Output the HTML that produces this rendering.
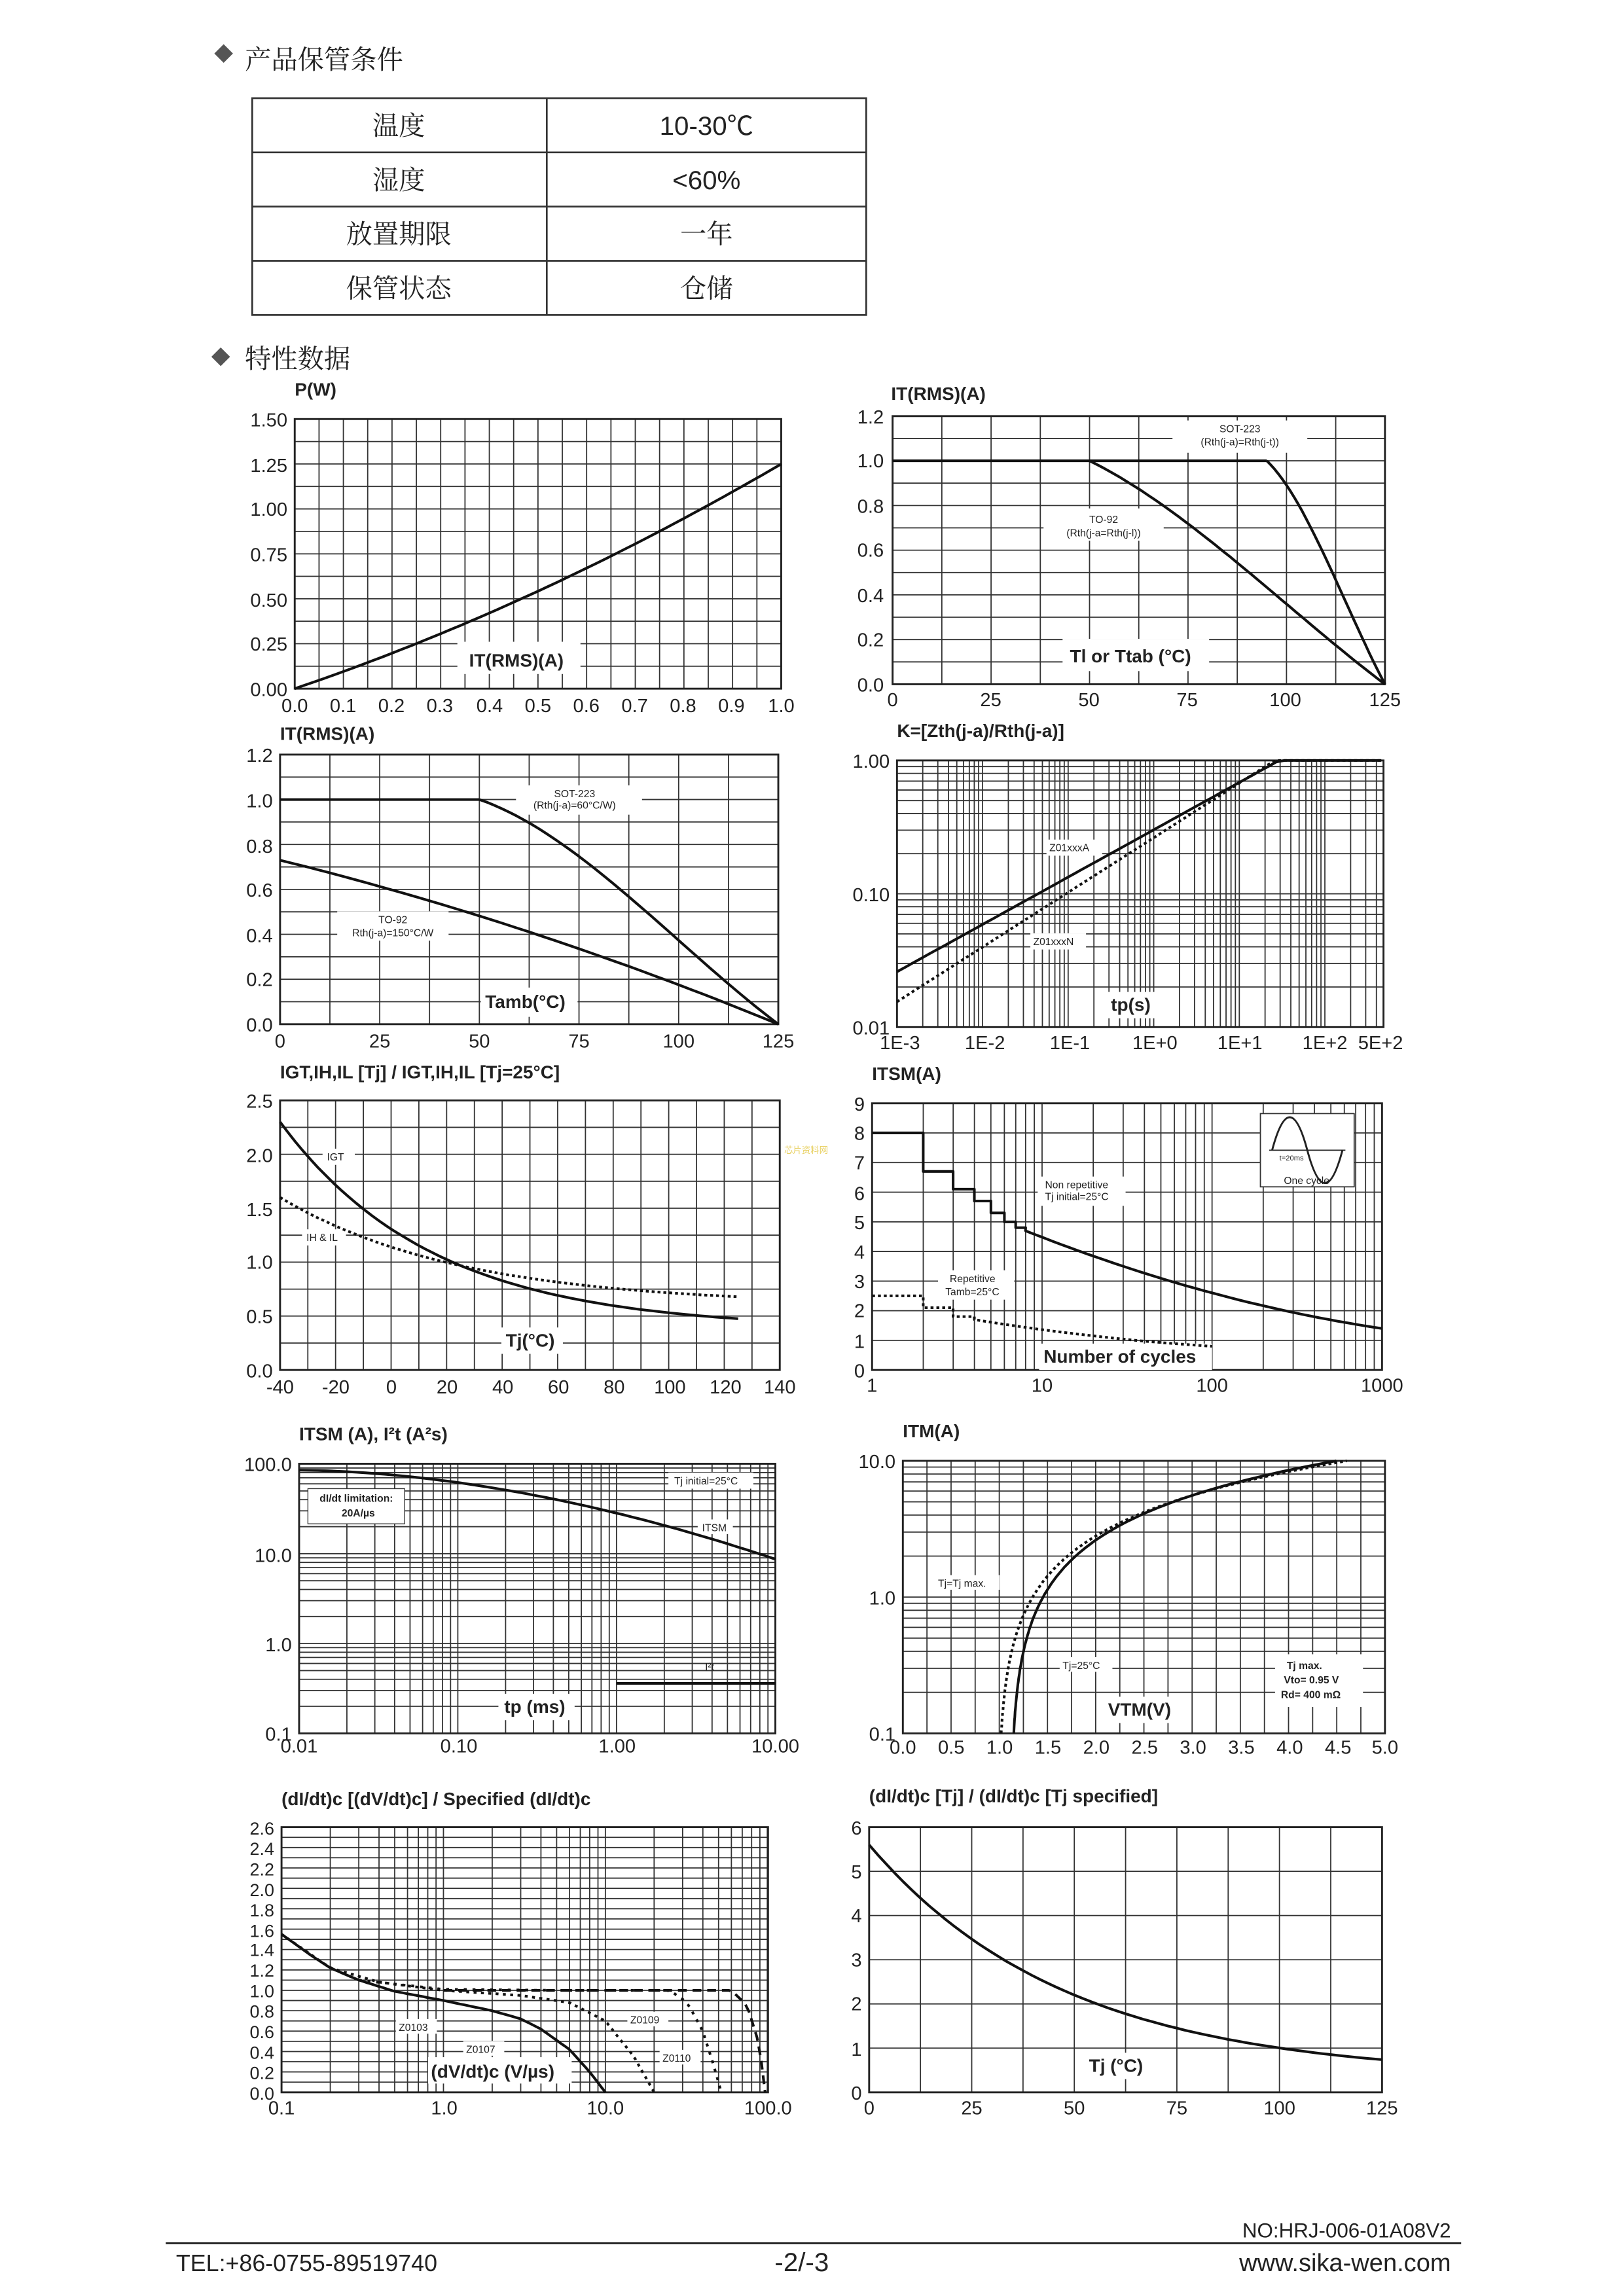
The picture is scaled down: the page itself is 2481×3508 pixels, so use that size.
<!DOCTYPE html>
<html><head><meta charset="utf-8">
<style>
html,body{margin:0;padding:0;background:#fff;}
svg{display:block;}
text{font-family:"Liberation Sans","Noto Sans CJK SC",sans-serif;fill:#222;}
.t{font-size:13px;}
.b{font-size:12.5px;font-weight:bold;}
.s{font-size:7px;}
.cn{font-family:"Liberation Serif","Noto Serif CJK SC",serif;font-size:18px;}
</style></head><body>
<svg id="s" width="2481" height="3508" viewBox="0 0 1108 1567" xmlns="http://www.w3.org/2000/svg">
<g id="g"></g>
<!-- header -->
<rect x="148" y="32" width="9" height="9" transform="rotate(45 152.5 36.5)" fill="#555"/>
<text class="cn" x="167" y="47">产品保管条件</text>
<g stroke="#333" stroke-width="1.2" fill="none">
<rect x="172" y="67" width="419" height="148"/>
<line x1="172" y1="104" x2="591" y2="104"/><line x1="172" y1="141" x2="591" y2="141"/><line x1="172" y1="178" x2="591" y2="178"/>
<line x1="373" y1="67" x2="373" y2="215"/>
</g>
<g class="cn" text-anchor="middle">
<text class="cn" x="272" y="92" text-anchor="middle">温度</text>
<text x="482" y="92" text-anchor="middle" style="font-size:18px">10-30℃</text>
<text class="cn" x="272" y="129" text-anchor="middle">湿度</text>
<text x="482" y="129" text-anchor="middle" style="font-size:18px">&lt;60%</text>
<text class="cn" x="272" y="166" text-anchor="middle">放置期限</text>
<text class="cn" x="482" y="166" text-anchor="middle">一年</text>
<text class="cn" x="272" y="203" text-anchor="middle">保管状态</text>
<text class="cn" x="482" y="203" text-anchor="middle">仓储</text>
</g>
<rect x="146" y="239" width="9" height="9" transform="rotate(45 150.5 243.5)" fill="#555"/>
<text class="cn" x="167" y="251">特性数据</text>

<!-- Chart 1 -->
<text class="b" x="201" y="270">P(W)</text>
<g class="t" text-anchor="end">
<text x="196" y="291">1.50</text><text x="196" y="322">1.25</text><text x="196" y="352">1.00</text><text x="196" y="383">0.75</text><text x="196" y="414">0.50</text><text x="196" y="444">0.25</text><text x="196" y="475">0.00</text></g>
<g class="t" text-anchor="middle">
<text x="201" y="486">0.0</text><text x="234" y="486">0.1</text><text x="267" y="486">0.2</text><text x="300" y="486">0.3</text><text x="334" y="486">0.4</text><text x="367" y="486">0.5</text><text x="400" y="486">0.6</text><text x="433" y="486">0.7</text><text x="466" y="486">0.8</text><text x="499" y="486">0.9</text><text x="533" y="486">1.0</text></g>

<!-- Chart 2 -->
<text class="b" x="608" y="273">IT(RMS)(A)</text>
<g class="t" text-anchor="end">
<text x="603" y="289">1.2</text><text x="603" y="319">1.0</text><text x="603" y="350">0.8</text><text x="603" y="380">0.6</text><text x="603" y="411">0.4</text><text x="603" y="441">0.2</text><text x="603" y="472">0.0</text></g>
<g class="t" text-anchor="middle">
<text x="609" y="482">0</text><text x="676" y="482">25</text><text x="743" y="482">50</text><text x="810" y="482">75</text><text x="877" y="482">100</text><text x="945" y="482">125</text></g>

<!-- Chart 3 -->
<text class="b" x="191" y="505">IT(RMS)(A)</text>
<g class="t" text-anchor="end">
<text x="186" y="520">1.2</text><text x="186" y="551">1.0</text><text x="186" y="582">0.8</text><text x="186" y="612">0.6</text><text x="186" y="643">0.4</text><text x="186" y="673">0.2</text><text x="186" y="704">0.0</text></g>
<g class="t" text-anchor="middle">
<text x="191" y="715">0</text><text x="259" y="715">25</text><text x="327" y="715">50</text><text x="395" y="715">75</text><text x="463" y="715">100</text><text x="531" y="715">125</text></g>

<!-- Chart 4 -->
<text class="b" x="612" y="503">K=[Zth(j-a)/Rth(j-a)]</text>
<g class="t" text-anchor="end">
<text x="607" y="524">1.00</text><text x="607" y="615">0.10</text><text x="607" y="706">0.01</text></g>
<g class="t" text-anchor="middle">
<text x="614" y="716">1E-3</text><text x="672" y="716">1E-2</text><text x="730" y="716">1E-1</text><text x="788" y="716">1E+0</text><text x="846" y="716">1E+1</text><text x="904" y="716">1E+2</text><text x="942" y="716">5E+2</text></g>

<!-- Chart 5 -->
<text class="b" x="191" y="736">IGT,IH,IL [Tj] / IGT,IH,IL [Tj=25°C]</text>
<g class="t" text-anchor="end">
<text x="186" y="756">2.5</text><text x="186" y="793">2.0</text><text x="186" y="830">1.5</text><text x="186" y="866">1.0</text><text x="186" y="903">0.5</text><text x="186" y="940">0.0</text></g>
<g class="t" text-anchor="middle">
<text x="191" y="951">-40</text><text x="229" y="951">-20</text><text x="267" y="951">0</text><text x="305" y="951">20</text><text x="343" y="951">40</text><text x="381" y="951">60</text><text x="419" y="951">80</text><text x="457" y="951">100</text><text x="495" y="951">120</text><text x="532" y="951">140</text></g>

<!-- Chart 6 -->
<text class="b" x="595" y="737">ITSM(A)</text>
<g class="t" text-anchor="end">
<text x="590" y="758">9</text><text x="590" y="778">8</text><text x="590" y="798">7</text><text x="590" y="819">6</text><text x="590" y="839">5</text><text x="590" y="859">4</text><text x="590" y="879">3</text><text x="590" y="899">2</text><text x="590" y="920">1</text><text x="590" y="940">0</text></g>
<g class="t" text-anchor="middle">
<text x="595" y="950">1</text><text x="711" y="950">10</text><text x="827" y="950">100</text><text x="943" y="950">1000</text></g>

<!-- Chart 7 -->
<text class="b" x="204" y="983">ITSM (A), I²t (A²s)</text>
<g class="t" text-anchor="end">
<text x="199" y="1004">100.0</text><text x="199" y="1066">10.0</text><text x="199" y="1127">1.0</text><text x="199" y="1188">0.1</text></g>
<g class="t" text-anchor="middle">
<text x="204" y="1196">0.01</text><text x="313" y="1196">0.10</text><text x="421" y="1196">1.00</text><text x="529" y="1196">10.00</text></g>

<!-- Chart 8 -->
<text class="b" x="616" y="981">ITM(A)</text>
<g class="t" text-anchor="end">
<text x="611" y="1002">10.0</text><text x="611" y="1095">1.0</text><text x="611" y="1188">0.1</text></g>
<g class="t" text-anchor="middle">
<text x="616" y="1197">0.0</text><text x="649" y="1197">0.5</text><text x="682" y="1197">1.0</text><text x="715" y="1197">1.5</text><text x="748" y="1197">2.0</text><text x="781" y="1197">2.5</text><text x="814" y="1197">3.0</text><text x="847" y="1197">3.5</text><text x="880" y="1197">4.0</text><text x="913" y="1197">4.5</text><text x="945" y="1197">5.0</text></g>

<!-- Chart 9 -->
<text class="b" x="192" y="1232">(dI/dt)c [(dV/dt)c] / Specified (dI/dt)c</text>
<g class="t" text-anchor="end" style="font-size:12px">
<text x="187" y="1252">2.6</text><text x="187" y="1266">2.4</text><text x="187" y="1280">2.2</text><text x="187" y="1294">2.0</text><text x="187" y="1308">1.8</text><text x="187" y="1322">1.6</text><text x="187" y="1335">1.4</text><text x="187" y="1349">1.2</text><text x="187" y="1363">1.0</text><text x="187" y="1377">0.8</text><text x="187" y="1391">0.6</text><text x="187" y="1405">0.4</text><text x="187" y="1419">0.2</text><text x="187" y="1433">0.0</text></g>
<g class="t" text-anchor="middle">
<text x="192" y="1443">0.1</text><text x="303" y="1443">1.0</text><text x="413" y="1443">10.0</text><text x="524" y="1443">100.0</text></g>

<!-- Chart 10 -->
<text class="b" x="593" y="1230">(dI/dt)c [Tj] / (dI/dt)c [Tj specified]</text>
<g class="t" text-anchor="end">
<text x="588" y="1252">6</text><text x="588" y="1282">5</text><text x="588" y="1312">4</text><text x="588" y="1342">3</text><text x="588" y="1372">2</text><text x="588" y="1403">1</text><text x="588" y="1433">0</text></g>
<g class="t" text-anchor="middle">
<text x="593" y="1443">0</text><text x="663" y="1443">25</text><text x="733" y="1443">50</text><text x="803" y="1443">75</text><text x="873" y="1443">100</text><text x="943" y="1443">125</text></g>

<!-- in-chart labels -->
<rect x="312" y="438" width="84" height="22" fill="#fff"/><text class="b" x="320" y="455">IT(RMS)(A)</text>
<rect x="725" y="436" width="100" height="22" fill="#fff"/><text class="b" x="730" y="452">Tl or Ttab (°C)</text>
<rect x="800" y="287" width="92" height="22" fill="#fff"/><text class="s" x="846" y="295" text-anchor="middle">SOT-223</text><text class="s" x="846" y="304" text-anchor="middle">(Rth(j-a)=Rth(j-t))</text>
<rect x="712" y="347" width="82" height="22" fill="#fff"/><text class="s" x="753" y="357" text-anchor="middle">TO-92</text><text class="s" x="753" y="366" text-anchor="middle">(Rth(j-a=Rth(j-l))</text>
<rect x="328" y="674" width="66" height="20" fill="#fff"/><text class="b" x="331" y="688">Tamb(°C)</text>
<rect x="352" y="536" width="86" height="20" fill="#fff"/><text class="s" x="392" y="544" text-anchor="middle">SOT-223</text><text class="s" x="392" y="552" text-anchor="middle">(Rth(j-a)=60°C/W)</text>
<rect x="230" y="622" width="76" height="20" fill="#fff"/><text class="s" x="268" y="630" text-anchor="middle">TO-92</text><text class="s" x="268" y="639" text-anchor="middle">Rth(j-a)=150°C/W</text>
<rect x="756" y="677" width="34" height="18" fill="#fff"/><text class="b" x="758" y="690">tp(s)</text>
<rect x="714" y="573" width="38" height="11" fill="#fff"/><text class="s" x="716" y="581">Z01xxxA</text>
<rect x="703" y="637" width="38" height="11" fill="#fff"/><text class="s" x="705" y="645">Z01xxxN</text>
<rect x="342" y="906" width="42" height="18" fill="#fff"/><text class="b" x="345" y="919">Tj(°C)</text>
<rect x="220" y="784" width="22" height="11" fill="#fff"/><text class="s" x="223" y="792">IGT</text>
<rect x="206" y="839" width="30" height="11" fill="#fff"/><text class="s" x="209" y="847">IH &amp; IL</text>
<rect x="709" y="917" width="118" height="18" fill="#fff"/><text class="b" x="712" y="930">Number of cycles</text>
<rect x="708" y="803" width="60" height="20" fill="#fff"/><text class="s" x="713" y="811">Non repetitive</text><text class="s" x="713" y="819">Tj initial=25°C</text>
<rect x="640" y="867" width="52" height="20" fill="#fff"/><text class="s" x="648" y="875">Repetitive</text><text class="s" x="645" y="884">Tamb=25°C</text>
<rect x="860" y="760" width="64" height="50" fill="#fff" stroke="#333" stroke-width="0.8"/>
<path d="M868 785 C876 755 884 755 892 785 C900 815 908 815 916 785" stroke="#222" fill="none" stroke-width="1.3"/>
<line x1="866" y1="785" x2="918" y2="785" stroke="#222" stroke-width="0.8"/>
<text class="s" x="873" y="792" style="font-size:5px">t=20ms</text><text class="s" x="876" y="808">One cycle</text>
<rect x="340" y="1156" width="52" height="18" fill="#fff"/><text class="b" x="344" y="1169">tp (ms)</text>
<rect x="210" y="1016" width="66" height="24" fill="#fff" stroke="#333" stroke-width="0.6"/><text class="s" x="218" y="1025" style="font-weight:bold">dI/dt limitation:</text><text class="s" x="233" y="1035" style="font-weight:bold">20A/µs</text>
<rect x="456" y="1005" width="58" height="11" fill="#fff"/><text class="s" x="460" y="1013">Tj initial=25°C</text>
<rect x="476" y="1037" width="24" height="10" fill="#fff"/><text class="s" x="479" y="1045">ITSM</text>
<text class="s" x="481" y="1140">I²t</text>
<rect x="753" y="1158" width="52" height="18" fill="#fff"/><text class="b" x="756" y="1171">VTM(V)</text>
<rect x="638" y="1075" width="44" height="10" fill="#fff"/><text class="s" x="640" y="1083">Tj=Tj max.</text>
<rect x="723" y="1131" width="36" height="10" fill="#fff"/><text class="s" x="725" y="1139">Tj=25°C</text>
<rect x="870" y="1129" width="60" height="36" fill="#fff"/><text class="s" x="878" y="1139" style="font-weight:bold">Tj max.</text><text class="s" x="876" y="1149" style="font-weight:bold">Vto= 0.95 V</text><text class="s" x="874" y="1159" style="font-weight:bold">Rd= 400 mΩ</text>
<rect x="292" y="1404" width="98" height="18" fill="#fff"/><text class="b" x="294" y="1418">(dV/dt)c (V/µs)</text>
<rect x="270" y="1378" width="28" height="10" fill="#fff"/><text class="s" x="272" y="1386">Z0103</text>
<rect x="316" y="1393" width="28" height="10" fill="#fff"/><text class="s" x="318" y="1401">Z0107</text>
<rect x="428" y="1373" width="28" height="10" fill="#fff"/><text class="s" x="430" y="1381">Z0109</text>
<rect x="450" y="1399" width="28" height="10" fill="#fff"/><text class="s" x="452" y="1407">Z0110</text>
<rect x="738" y="1401" width="52" height="18" fill="#fff"/><text class="b" x="743" y="1414">Tj (°C)</text>
<text x="535" y="787" style="font-size:6px;fill:#e8d060">芯片资料网</text>
<g id="curves"></g>

<!-- footer -->
<text class="t" x="990" y="1527" text-anchor="end" style="font-size:14px">NO:HRJ-006-01A08V2</text>
<line x1="113" y1="1531" x2="997" y2="1531" stroke="#222" stroke-width="1.3"/>
<text x="120" y="1550" style="font-size:16px">TEL:+86-0755-89519740</text>
<text x="547" y="1550" text-anchor="middle" style="font-size:18px">-2/-3</text>
<text x="990" y="1550" text-anchor="end" style="font-size:17px">www.sika-wen.com</text>
</svg>
<script>
var NS="http://www.w3.org/2000/svg",G=document.getElementById('g'),C=document.getElementById('curves');
function el(p,t,a){var e=document.createElementNS(NS,t);for(var k in a)e.setAttribute(k,a[k]);p.appendChild(e);return e;}
function L(x1,y1,x2,y2,w){el(G,'line',{x1:x1,y1:y1,x2:x2,y2:y2,stroke:'#333','stroke-width':w||0.8});}
function lin(x0,y0,x1,y1,nx,ny){for(var i=0;i<=nx;i++){var x=x0+(x1-x0)*i/nx;L(x,y0,x,y1);}for(var j=0;j<=ny;j++){var y=y0+(y1-y0)*j/ny;L(x0,y,x1,y);}frame(x0,y0,x1,y1);}
function logGridX(x0,y0,x1,y1,decw){for(var d=0;;d++){for(var k=1;k<10;k++){var x=x0+(d+Math.log10(k))*decw;if(x>x1+0.5)return;L(x,y0,x,y1);}}}
function logGridY(x0,y0,x1,y1,dech){for(var d=0;;d++){for(var k=1;k<10;k++){var y=y1-(d+Math.log10(k))*dech;if(y<y0-0.5)return;L(x0,y,x1,y);}}}
function frame(x0,y0,x1,y1){el(G,'rect',{x:x0,y:y0,width:x1-x0,height:y1-y0,fill:'none',stroke:'#222','stroke-width':1.3});}
function P(pts,dash,w){var d='M'+pts.map(function(p){return p[0].toFixed(1)+' '+p[1].toFixed(1)}).join(' L');var a={d:d,fill:'none',stroke:'#111','stroke-width':w||1.8,'stroke-linejoin':'round'};if(dash)a['stroke-dasharray']=dash;el(C,'path',a);}
function F(f,a,b,n,X,Y){var r=[];for(var i=0;i<=n;i++){var v=a+(b-a)*i/n;r.push([X(v),Y(f(v))]);}return r;}
function interp(pts,v){for(var i=0;i<pts.length-1;i++){if(v<=pts[i+1][0])return pts[i][1]+(pts[i+1][1]-pts[i][1])*(v-pts[i][0])/(pts[i+1][0]-pts[i][0]);}return pts[pts.length-1][1];}
// chart1
lin(201,286,533,470,20,12);
P(F(function(i){return 0.92*i+0.33*i*i},0,1,50,function(v){return 201+332*v},function(p){return 470-p*184/1.5}));
// chart2
lin(609,284,945,467,10,12);
(function(){var X=function(t){return 609+t*336/125},Y=function(v){return 467-v*183/1.2};
P([[X(0),Y(1)],[X(95),Y(1)]]);
P(F(function(t){return (1-(t-50)/75)*(1+0.35*(t-50)/75*(1-(t-50)/75))},50,125,40,X,Y));
P(F(function(t){return (1-(t-95)/30)*(1+0.5*(t-95)/30*(1-(t-95)/30))},95,125,30,X,Y));})();
// chart3
lin(191,515,531,699,10,12);
(function(){var X=function(t){return 191+t*340/125},Y=function(v){return 515+(1.2-v)*184/1.2};
P([[X(0),Y(1)],[X(50),Y(1)]]);
P(F(function(t){var u=(t-50)/75;return (1-u)*(1+0.45*u*(1-u)*1.2)},50,125,40,X,Y));
P(F(function(t){var u=t/125;return 0.73*(1-u)*(1+0.25*u)},0,125,40,X,Y));})();
// chart4
logGridX(612,519,944,701,58.4);logGridY(612,519,944,701,91);frame(612,519,944,701);
(function(){var X=function(l){return 612+(l+3)*58.4},Y=function(v){return 701-(Math.log10(v)+2)*91};
P(F(function(l){return Math.min(1,0.026*Math.pow(10,0.355*(l+3)))},-3,2.66,60,X,Y));
P(F(function(l){return Math.min(1,0.0155*Math.pow(10,0.41*(l+3)))},-3,2.66,60,X,Y),'2,2');})();
// chart5
lin(191,751,532,935,18,10);
(function(){var X=function(t){return 191+(t+40)*341/180},Y=function(v){return 935-v*184/2.5};
P(F(function(t){return 0.38+1.92*Math.exp(-(t+40)/55)},-40,125,60,X,Y));
P(F(function(t){return 0.6+1.0*Math.exp(-(t+40)/65)},-40,125,60,X,Y),'2,2');})();
// chart6
logGridX(595,753,943,935,116);for(var j=0;j<=9;j++)L(595,753+j*182/9,943,753+j*182/9);frame(595,753,943,935);
(function(){var X=function(n){return 595+Math.log10(n)*116},Y=function(v){return 935-v*182/9},XL=function(l){return 595+l*116};
var s=[[X(1),Y(8)],[X(2),Y(8)],[X(2),Y(6.7)],[X(3),Y(6.7)],[X(3),Y(6.1)],[X(4),Y(6.1)],[X(4),Y(5.7)],[X(5),Y(5.7)],[X(5),Y(5.3)],[X(6),Y(5.3)],[X(6),Y(5.0)],[X(7),Y(5.0)],[X(7),Y(4.8)],[X(8),Y(4.8)]];
P(s.concat(F(function(l){var u=l-0.903;return 4.7-2.287*u+0.34*u*u},0.903,3,40,XL,Y)));
var r=[[X(1),Y(2.5)],[X(2),Y(2.5)],[X(2),Y(2.1)],[X(3),Y(2.1)],[X(3),Y(1.8)],[X(4),Y(1.8)]];
P(r.concat(F(function(l){var u=(l-0.602)/1.398;return 1.7-1.3*u+0.4*u*u},0.602,2,30,XL,Y)),'2,2');})();
// chart7
logGridX(204,999,529,1183,108.3);logGridY(204,999,529,1183,61.3);frame(204,999,529,1183);
(function(){var X=function(l){return 204+(l+2)*108.3},Y=function(v){return 1183-(Math.log10(v)+1)*61.3};
P(F(function(l){return 85*Math.pow(10,-0.33*Math.pow((l+2)/3,1.8)*3)},-2,1,50,X,Y));
P([[X(0),Y(0.36)],[X(1),Y(0.36)]]);})();
// chart8
for(var i=0;i<=20;i++)L(616+i*329/20,997,616+i*329/20,1183);logGridY(616,997,945,1183,93);frame(616,997,945,1183);
(function(){var X=function(v){return 616+v*329/5},Y=function(i){return 1183-(Math.log10(i)+1)*93};
var a=[],b=[];for(var k=-1;k<=1.001;k+=0.02){var I=Math.pow(10,k);a.push([X(1.116+0.338*I),Y(I)]);b.push([X(0.984+0.362*I),Y(I)]);}
P(a);P(b,'2,2');})();
// chart9
logGridX(192,1247,524,1428,110.5);for(var j=0;j<=26;j++)L(192,1247+j*181/26,524,1247+j*181/26);frame(192,1247,524,1428);
(function(){var X=function(v){return 192+Math.log10(v/0.1)*110.5},Y=function(v){return 1428-v*181/2.6};
function S(pts,dash){var r=[];var l0=Math.log10(pts[0][0]),l1=Math.log10(pts[pts.length-1][0]);var lp=pts.map(function(p){return [Math.log10(p[0]),p[1]]});for(var i=0;i<=80;i++){var l=l0+(l1-l0)*i/80;r.push([X(Math.pow(10,l)),Y(interp(lp,l))]);}P(r,dash);}
S([[0.1,1.55],[0.15,1.35],[0.2,1.22],[0.3,1.1],[0.5,0.99],[1,0.9],[2,0.8],[3,0.72],[4,0.62],[6,0.42],[8,0.2],[10,0]]);
S([[0.1,1.55],[0.2,1.22],[0.4,1.08],[1,1.0],[3,0.95],[6,0.88],[10,0.7],[15,0.35],[20,0]],'2,3');
S([[0.3,1.1],[1,1.01],[5,1.0],[25,1.0],[32,0.88],[40,0.6],[47,0.25],[52,0]],'2,4');
S([[1,1.0],[10,1.0],[60,1.0],[75,0.85],[88,0.5],[95,0.15],[97,0]],'6,4');})();
// chart10
lin(593,1247,943,1428,10,6);
(function(){var X=function(t){return 593+t*350/125},Y=function(v){return 1428-v*181/6};
P(F(function(t){return 0.35+5.25*Math.exp(-t/48)},0,125,60,X,Y));})();
</script>
</body></html>
